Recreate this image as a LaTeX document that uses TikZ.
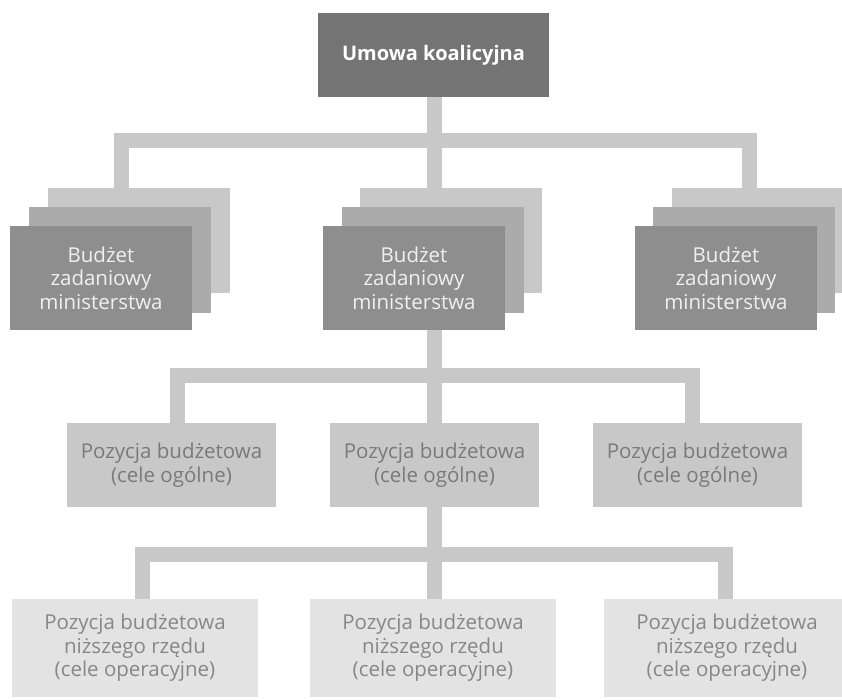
\documentclass[tikz,border=0pt]{standalone}
\usepackage{fontspec}
\setmainfont{Open Sans}
\definecolor{topc}{HTML}{747474}
\definecolor{frontc}{HTML}{8E8E8E}
\definecolor{midc}{HTML}{ABABAB}
\definecolor{backc}{HTML}{C8C8C8}
\definecolor{lvtwo}{HTML}{C8C8C8}
\definecolor{lvthree}{HTML}{E3E3E3}
\definecolor{conc}{HTML}{C8C8C8}
\definecolor{txtgray}{HTML}{7A7A7A}
\begin{document}
\begin{tikzpicture}[x=1pt,y=-1pt,
  box/.style={draw=none,inner sep=0pt,align=center,font=\fontsize{20.5}{23.5}\selectfont},
  topbox/.style={box,fill=topc,text=white,font=\fontsize{20}{23}\selectfont\bfseries,minimum width=231pt,minimum height=84pt},
  backbox/.style={box,fill=backc,minimum width=182pt,minimum height=105pt},
  midbox/.style={box,fill=midc,minimum width=182pt,minimum height=106pt},
  frontbox/.style={box,fill=frontc,text=white!94!black,minimum width=182pt,minimum height=104pt},
  twobox/.style={box,fill=lvtwo,text=txtgray,minimum width=209pt,minimum height=84pt},
  threebox/.style={box,fill=lvthree,text=txtgray!90!white,minimum width=246pt,minimum height=98pt},
  conn/.style={draw=conc,line width=15pt,line cap=butt,line join=miter}]
\useasboundingbox (0,0) rectangle (842,699);
\begin{scope}
\clip (0,0) rectangle (842,699);
% top
\node[topbox] (top) at (433.5,55) {Umowa koalicyjna};
% stacks
\node[backbox] (lback) at (139,240.5) {};
\node[midbox] (lmid) at (120,260) {};
\node[frontbox] (lfront) at (101,278) {Budżet\\zadaniowy\\ministerstwa};
\node[backbox] (cback) at (451,240.5) {};
\node[midbox] (cmid) at (433,260) {};
\node[frontbox] (cfront) at (414,278) {Budżet\\zadaniowy\\ministerstwa};
\node[backbox] (rback) at (763,240.5) {};
\node[midbox] (rmid) at (744,260) {};
\node[frontbox] (rfront) at (726,278) {Budżet\\zadaniowy\\ministerstwa};
% level 2
\node[twobox] (pa) at (171.5,465) {Pozycja budżetowa\\(cele ogólne)};
\node[twobox] (pb) at (434.5,465) {Pozycja budżetowa\\(cele ogólne)};
\node[twobox] (pc) at (697.5,465) {Pozycja budżetowa\\(cele ogólne)};
% level 3
\node[threebox] (qa) at (135,648) {Pozycja budżetowa\\niższego rzędu\\(cele operacyjne)};
\node[threebox] (qb) at (433,648) {Pozycja budżetowa\\niższego rzędu\\(cele operacyjne)};
\node[threebox] (qc) at (727,648) {Pozycja budżetowa\\niższego rzędu\\(cele operacyjne)};
% junction coordinates
\coordinate (ja) at (121,140);
\coordinate (jc) at (434.5,140);
\coordinate (jb) at (749,140);
\coordinate (ka) at (177,375);
\coordinate (kc) at (434.5,375);
\coordinate (kb) at (692,375);
\coordinate (ma) at (142,554.5);
\coordinate (mc) at (434.5,554.5);
\coordinate (mb) at (725.5,554.5);
\end{scope}
% connectors
\draw[conn] (top.south -| jc) -- (jc |- cback.north);
\draw[conn] (ja |- lback.north) -- (ja) -- (jb) -- (jb |- rback.north);
\draw[conn] (cfront.south -| kc) -- (kc |- pb.north);
\draw[conn] (ka |- pa.north) -- (ka) -- (kb) -- (kb |- pc.north);
\draw[conn] (pb.south -| mc) -- (mc |- qb.north);
\draw[conn] (ma |- qa.north) -- (ma) -- (mb) -- (mb |- qc.north);
\end{tikzpicture}
\end{document}
